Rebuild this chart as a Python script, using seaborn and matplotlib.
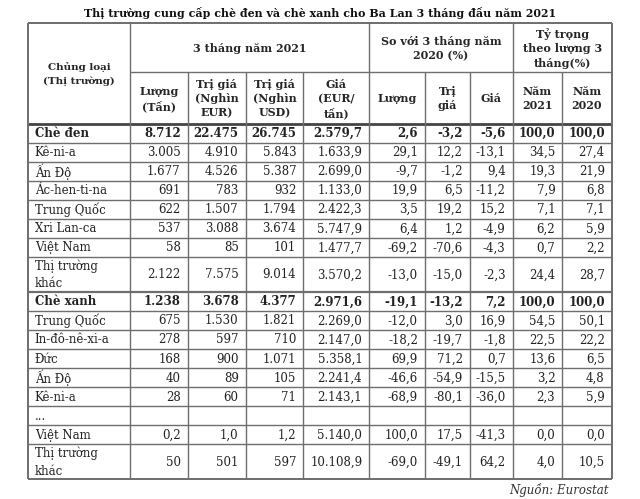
import matplotlib.pyplot as plt
import seaborn as sns

title = "Thị trường cung cấp chè đen và chè xanh cho Ba Lan 3 tháng đầu năm 2021"
markets = ["Chè đen", "Kê-ni-a", "Ấn Độ", "Ác-hen-ti-na", "Trung Quốc", "Xri Lan-ca",
           "Việt Nam", "Thị trường\nkhác", "Chè xanh", "Trung Quốc", "In-đô-nê-xi-a",
           "Đức", "Ấn Độ", "Kê-ni-a", "...", "Việt Nam", "Thị trường\nkhác"]
volume_t = [8712, 3005, 1677, 691, 622, 537, 58, 2122, 1238, 675, 278, 168, 40, 28, None, 0.2, 50]
value_eur = [22475, 4910, 4526, 783, 1507, 3088, 85, 7575, 3678, 1530, 597, 900, 89, 60, None, 1.0, 501]
value_usd = [26745, 5843, 5387, 932, 1794, 3674, 101, 9014, 4377, 1821, 710, 1071, 105, 71, None, 1.2, 597]
price_eur = [2579.7, 1633.9, 2699.0, 1133.0, 2422.3, 5747.9, 1477.7, 3570.2, 2971.6, 2269.0,
             2147.0, 5358.1, 2241.4, 2143.1, None, 5140.0, 10108.9]
chg_volume = [2.6, 29.1, -9.7, 19.9, 3.5, 6.4, -69.2, -13.0, -19.1, -12.0, -18.2, 69.9, -46.6,
              -68.9, None, 100.0, -69.0]
chg_value = [-3.2, 12.2, -1.2, 6.5, 19.2, 1.2, -70.6, -15.0, -13.2, 3.0, -19.7, 71.2, -54.9,
             -80.1, None, 17.5, -49.1]
chg_price = [-5.6, -13.1, 9.4, -11.2, 15.2, -4.9, -4.3, -2.3, 7.2, 16.9, -1.8, 0.7, -15.5,
             -36.0, None, -41.3, 64.2]
share_2021 = [100.0, 34.5, 19.3, 7.9, 7.1, 6.2, 0.7, 24.4, 100.0, 54.5, 22.5, 13.6, 3.2, 2.3,
              None, 0.0, 4.0]
share_2020 = [100.0, 27.4, 21.9, 6.8, 7.1, 5.9, 2.2, 28.7, 100.0, 50.1, 22.2, 6.5, 4.8, 5.9,
              None, 0.0, 10.5]
total_rows = [0, 8]
sub_headers = ["Lượng\n(Tấn)", "Trị giá\n(Nghìn\nEUR)", "Trị giá\n(Nghìn\nUSD)", "Giá\n(EUR/\ntấn)",
               "Lượng", "Trị\ngiá", "Giá", "Năm\n2021", "Năm\n2020"]
group_headers = ["3 tháng năm 2021", "So với 3 tháng năm\n2020 (%)", "Tỷ trọng\ntheo lượng 3\ntháng(%)"]
group_spans = [(1, 5), (5, 8), (8, 10)]
first_header = "Chủng loại\n(Thị trường)"
source = "Nguồn: Eurostat"

# layout (pixels)
col_edges = [27.7, 130, 187.7, 245.7, 303.3, 369.3, 425, 470, 512.7, 562.3, 611.7]
head_top, head_mid, head_bot = 22.7, 72.3, 123.5
row_h, tall_h = 19.05, 35.0
pad = 7
grid_col = "#6e6e6e"
fs = 8


def vn(v, d):
    if v is None:
        return ""
    s = f"{v:,.{d}f}"
    return s.replace(",", "X").replace(".", ",").replace("X", ".")


sns.set_theme(style="white")
plt.rcParams["font.family"] = ["DejaVu Serif"]

fig = plt.figure(figsize=(6.4, 4.99), dpi=100)
ax = fig.add_axes([0, 0, 1, 1])
ax.set_xlim(0, 640)
ax.set_ylim(499, 0)
ax.axis("off")

ax.text(sum(col_edges[::10]) / 2, 12.5, title, ha="center", va="center",
        fontsize=7.9, fontweight="bold", color="#111")

# row edges
edges = [head_bot]
for lab in markets:
    edges.append(edges[-1] + (tall_h if "\n" in lab else row_h))

L, R = col_edges[0], col_edges[-1]
# horizontal grid
ax.hlines(head_mid, col_edges[1], R, color=grid_col, lw=1.0)
for i, y in enumerate(edges[1:-1], start=1):
    lw = 1.6 if i == 8 else 1.0
    ax.hlines(y, L, R, color=grid_col, lw=lw)
ax.hlines(head_bot, L, R, color="#444", lw=2.0)
ax.hlines([head_top, edges[-1]], L, R, color=grid_col, lw=1.4)
# vertical grid
full_cols = [0, 1, 5, 8, 10]
for j, x in enumerate(col_edges):
    top = head_top if j in full_cols else head_mid
    ax.vlines(x, top, edges[-1], color=grid_col, lw=1.4 if j in (0, 10) else 1.0)

# headers
ax.text((col_edges[0] + col_edges[1]) / 2, (head_top + head_bot) / 2 + 1, first_header,
        ha="center", va="center", fontsize=fs - 0.5, fontweight="bold", linespacing=1.5)
for lab, (a, b) in zip(group_headers, group_spans):
    ax.text((col_edges[a] + col_edges[b]) / 2, (head_top + head_mid) / 2 + 1, lab,
            ha="center", va="center", fontsize=fs, fontweight="bold", linespacing=1.35)
for j, lab in enumerate(sub_headers, start=1):
    ax.text((col_edges[j] + col_edges[j + 1]) / 2, (head_mid + head_bot) / 2 + 1, lab,
            ha="center", va="center", fontsize=fs, fontweight="bold", linespacing=1.35)

# body
columns = [(volume_t, 0), (value_eur, 0), (value_usd, 0), (price_eur, 1), (chg_volume, 1),
           (chg_value, 1), (chg_price, 1), (share_2021, 1), (share_2020, 1)]
for i, lab in enumerate(markets):
    yc = (edges[i] + edges[i + 1]) / 2 + 0.5
    wt = "bold" if i in total_rows else "normal"
    ax.text(L + pad, yc, lab, ha="left", va="center", fontsize=fs + 0.5, fontweight=wt,
            linespacing=1.45, color="#222")
    for j, (vals, d) in enumerate(columns, start=1):
        v = vals[i]
        dd = 1 if (d == 0 and v is not None and v < 10 and lab == "Việt Nam" and i > 8) else d
        ax.text(col_edges[j + 1] - pad, yc, vn(v, dd), ha="right", va="center",
                fontsize=fs + 0.5, fontweight=wt, color="#222")

ax.text(R - 3, 490, source, ha="right", va="center", fontsize=fs + 0.5, style="italic", color="#333")

fig.savefig("out.png", dpi=100)
